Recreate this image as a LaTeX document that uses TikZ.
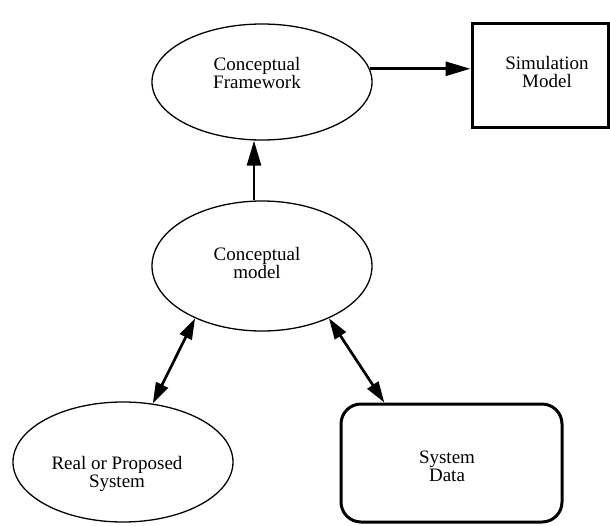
\documentclass[tikz,border=0pt]{standalone}
\usepackage{fontspec}
\setmainfont{Liberation Serif}
\usetikzlibrary{shapes.geometric,arrows.meta,calc}
\begin{document}
\begin{tikzpicture}[x=1pt,y=-1pt,
  oval/.style={draw, ellipse, line width=1.3pt, inner sep=0pt, minimum width=220pt},
  box/.style={draw, rectangle, line width=3pt, inner sep=0pt},
  lbl/.style={align=center, font=\fontsize{19}{18}\selectfont, inner sep=0pt},
  link/.style={line width=2.8pt, -{Triangle[length=25pt,width=14pt]}},
  twoway/.style={line width=2.7pt,
    {Triangle[length=21pt,width=13pt]}-{Triangle[length=21pt,width=13pt]}}
]
\useasboundingbox (0,0) rectangle (610,525);

% shapes
\node[oval, minimum height=116pt] (frame) at (262,82) {};
\node[oval, minimum height=130pt] (model) at (262,266) {};
\node[oval, minimum height=120pt] (real) at (123,462) {};
\node[box, minimum width=136pt, minimum height=104pt] (sim) at (540,75) {};
\node[box, rounded corners=20pt, minimum width=221pt, minimum height=118pt] (data) at (451.5,463) {};

% labels
\node[lbl] (frametext) at (257,72.5) {Conceptual\\Framework};
\node[lbl] (modeltext) at (257,262.5) {Conceptual\\model};
\node[lbl] (realtext) at (117,473.5) {Real or Proposed\\System};
\node[lbl] (simtext) at (547,71.5) {Simulation\\Model};
\node[lbl] (datatext) at (447,466.5) {System\\Data};

% connectors
\draw[link] ([xshift=-8pt]model.north) -- ([xshift=-8pt]frame.south);
\draw[link] (frame.7) -- (frame.7 -| sim.west);
\draw[twoway] (model.218) -- (real.63);
\draw[twoway] (model.322) -- ($(data.north west)!0.2!(data.north east)$);
\end{tikzpicture}
\end{document}
